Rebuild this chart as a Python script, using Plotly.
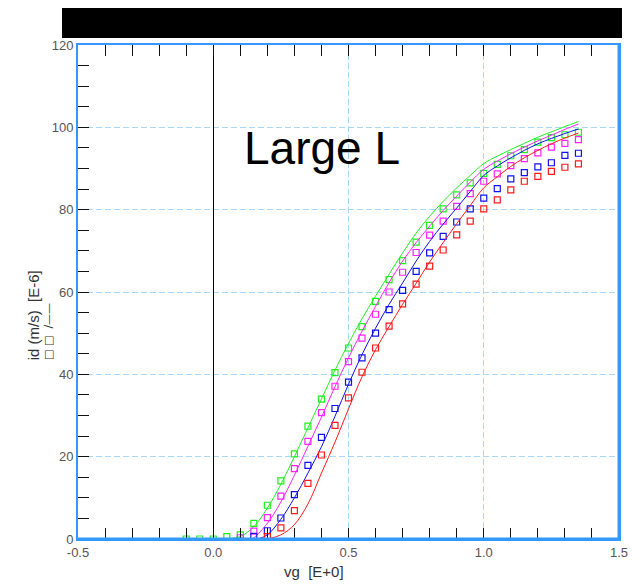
import plotly.graph_objects as go

# ---- measured data (open squares) ----
green_meas_x = [-0.10, -0.05, 0.00, 0.05, 0.10, 0.15, 0.20, 0.25, 0.30, 0.35, 0.40, 0.45, 0.50, 0.55, 0.60,
                0.65, 0.70, 0.75, 0.80, 0.85, 0.90, 0.95, 1.00, 1.05, 1.10, 1.15, 1.20, 1.25, 1.30, 1.35]
green_meas_y = [0.0, 0.0, 0.0, 0.6, 1.0, 3.8, 8.2, 14.1, 20.7, 27.4, 34.0, 40.4, 46.4, 51.6, 57.7,
                63.0, 67.6, 72.1, 76.2, 80.2, 83.6, 86.5, 88.8, 91.0, 93.1, 94.6, 96.4, 97.5, 98.2, 98.8]

magenta_meas_x = [0.10, 0.15, 0.20, 0.25, 0.30, 0.35, 0.40, 0.45, 0.50, 0.55, 0.60, 0.65, 0.70,
                  0.75, 0.80, 0.85, 0.90, 0.95, 1.00, 1.05, 1.10, 1.15, 1.20, 1.25, 1.30, 1.35]
magenta_meas_y = [0.3, 1.9, 5.2, 10.4, 17.1, 23.7, 30.7, 37.1, 43.1, 48.8, 54.6, 60.0, 64.8,
                  69.6, 73.8, 77.2, 80.8, 83.9, 86.9, 88.7, 90.7, 92.4, 93.8, 95.2, 96.1, 97.0]

blue_meas_x = [0.15, 0.20, 0.25, 0.30, 0.35, 0.40, 0.45, 0.50, 0.55, 0.60, 0.65, 0.70, 0.75,
               0.80, 0.85, 0.90, 0.95, 1.00, 1.05, 1.10, 1.15, 1.20, 1.25, 1.30, 1.35]
blue_meas_y = [0.65, 2.0, 5.1, 10.8, 17.9, 24.7, 31.7, 38.1, 44.0, 50.0, 55.7, 60.4, 65.0,
               69.5, 73.5, 77.0, 80.2, 82.8, 85.1, 87.5, 89.0, 90.4, 91.4, 93.2, 93.7]

red_meas_x = [0.20, 0.25, 0.30, 0.35, 0.40, 0.45, 0.50, 0.55, 0.60, 0.65, 0.70, 0.75,
              0.80, 0.85, 0.90, 0.95, 1.00, 1.05, 1.10, 1.15, 1.20, 1.25, 1.30, 1.35]
red_meas_y = [0.6, 2.7, 6.9, 13.5, 20.4, 27.6, 34.3, 40.5, 46.4, 51.7, 57.1, 61.9,
              66.3, 70.2, 73.9, 77.2, 80.2, 82.4, 84.8, 86.9, 88.1, 89.3, 90.3, 91.1]

# ---- simulated data (solid lines) ----
green_sim_x = [0.00, 0.05, 0.10, 0.15, 0.20, 0.25, 0.30, 0.35, 0.40, 0.45, 0.50, 0.55, 0.60, 0.65,
               0.70, 0.75, 0.80, 0.85, 0.90, 0.95, 1.00, 1.05, 1.10, 1.15, 1.20, 1.25, 1.30, 1.35]
green_sim_y = [0.0, 0.1, 0.6, 3.0, 7.5, 13.3, 20.0, 27.0, 34.0, 41.0, 47.5, 53.5, 59.0, 64.3,
               69.5, 74.3, 78.4, 82.0, 85.3, 88.3, 91.2, 93.0, 94.6, 96.1, 97.6, 98.9, 100.2, 101.4]

magenta_sim_x = [0.14, 0.15, 0.20, 0.25, 0.30, 0.35, 0.40, 0.45, 0.50, 0.55, 0.60, 0.65,
                 0.70, 0.75, 0.80, 0.85, 0.90, 0.95, 1.00, 1.05, 1.10, 1.15, 1.20, 1.25, 1.30, 1.35]
magenta_sim_y = [0.0, 0.3, 3.8, 9.0, 15.5, 22.5, 29.6, 37.0, 44.0, 50.5, 56.5, 62.3,
                 67.5, 72.0, 76.0, 79.8, 83.3, 86.7, 89.8, 91.8, 93.6, 95.2, 96.7, 98.1, 99.5, 100.8]

blue_sim_x = [0.165, 0.20, 0.25, 0.30, 0.35, 0.40, 0.45, 0.50, 0.55, 0.60, 0.65, 0.70, 0.75,
              0.80, 0.85, 0.90, 0.95, 1.00, 1.05, 1.10, 1.15, 1.20, 1.25, 1.30, 1.35]
blue_sim_y = [0.0, 1.0, 4.8, 10.0, 16.0, 22.4, 29.8, 37.6, 44.8, 51.2, 57.0, 62.2, 67.5,
              72.3, 76.5, 80.4, 84.4, 88.3, 90.6, 92.6, 94.4, 96.0, 97.3, 98.5, 99.6]

red_sim_x = [0.20, 0.25, 0.30, 0.35, 0.40, 0.45, 0.50, 0.55, 0.60, 0.65, 0.70, 0.75,
             0.80, 0.85, 0.90, 0.95, 1.00, 1.05, 1.10, 1.15, 1.20, 1.25, 1.30, 1.35]
red_sim_y = [0.0, 1.0, 3.5, 8.5, 16.0, 23.5, 31.6, 39.4, 46.0, 51.6, 57.0, 62.1,
             67.3, 72.0, 76.6, 81.0, 85.3, 88.0, 90.5, 92.6, 94.4, 96.0, 97.4, 98.6]

x_ticks = [-0.5, 0.0, 0.5, 1.0, 1.5]
x_tick_labels = ["-0.5", "0.0", "0.5", "1.0", "1.5"]
y_ticks = [0, 20, 40, 60, 80, 100, 120]

GREEN = "#22ee22"
MAGENTA = "#ff22ff"
BLUE = "#1111ee"
RED = "#ff1a1a"
BORDER = "#3399ff"
GRID = "#a8d8f8"
FONT = "Liberation Sans, Arial, sans-serif"

fig = go.Figure()

series = [
    (green_sim_x, green_sim_y, green_meas_x, green_meas_y, GREEN),
    (magenta_sim_x, magenta_sim_y, magenta_meas_x, magenta_meas_y, MAGENTA),
    (blue_sim_x, blue_sim_y, blue_meas_x, blue_meas_y, BLUE),
    (red_sim_x, red_sim_y, red_meas_x, red_meas_y, RED),
]
for sx, sy, mx, my, col in series:
    fig.add_trace(go.Scatter(x=sx, y=sy, mode="lines", line=dict(color=col, width=1),
                             line_shape="spline", showlegend=False, hoverinfo="skip"))
    fig.add_trace(go.Scatter(x=mx, y=my, mode="markers",
                             marker=dict(symbol="square-open", size=6, color=col,
                                         line=dict(color=col, width=1.2)),
                             showlegend=False))

# page body has an 8px margin, so the figure is drawn offset by (8, 8)
fig.update_layout(
    width=635, height=576,
    margin=dict(l=70, r=24, t=37, b=45),
    paper_bgcolor="white", plot_bgcolor="white",
    font=dict(family=FONT, size=13, color="#555555"),
    showlegend=False,
    xaxis=dict(
        range=[-0.5, 1.5], tickvals=x_ticks, ticktext=x_tick_labels,
        ticks="inside", ticklen=0, showgrid=True, gridcolor=GRID, griddash="6px,3px", gridwidth=1,
        showline=True, linecolor=BORDER, linewidth=2, mirror="ticks",
        zeroline=True, zerolinecolor="black", zerolinewidth=1,
        minor=dict(dtick=0.1, ticks="inside", ticklen=11, tickcolor="#111111", tickwidth=1,
                   showgrid=False),
        tickfont=dict(size=13, color="#555555"),
        automargin=False,
    ),
    yaxis=dict(
        range=[0, 120], tickvals=y_ticks,
        ticks="inside", ticklen=0, showgrid=True, gridcolor=GRID, griddash="6px,3px", gridwidth=1,
        showline=True, linecolor=BORDER, linewidth=2, mirror=True,
        zeroline=False,
        minor=dict(dtick=5, ticks="inside", ticklen=11, tickcolor="#111111", tickwidth=1,
                   showgrid=False),
        tickfont=dict(size=13, color="#555555"),
        automargin=False,
    ),
)

# thicker right / bottom border
fig.add_shape(type="line", xref="paper", yref="paper", x0=1, x1=1, y0=0, y1=1,
              line=dict(color=BORDER, width=3))
fig.add_shape(type="line", xref="paper", yref="paper", x0=0, x1=1, y0=0, y1=0,
              line=dict(color=BORDER, width=3))

# black bar at the top
fig.add_shape(type="rect", xref="paper", yref="paper",
              x0=-0.0296, x1=1.0055, y0=1.0142, y1=1.0749,
              fillcolor="black", line=dict(width=0), layer="above")

# "Large L" label
fig.add_annotation(text="Large L", xref="paper", yref="paper", x=0.451, y=0.792,
                   xanchor="center", yanchor="middle", showarrow=False,
                   font=dict(family=FONT, size=46, color="black"))

# axis titles
fig.add_annotation(text="vg  [E+0]", xref="paper", yref="paper", x=0.437, y=-0.066,
                   xanchor="center", yanchor="middle", showarrow=False,
                   font=dict(family=FONT, size=15, color="#333333"))
fig.add_annotation(text="id (m/s)  [E-6]", xref="paper", yref="paper", x=-0.083, y=0.358,
                   xanchor="center", yanchor="bottom", textangle=-90, showarrow=False,
                   font=dict(family=FONT, size=15, color="#333333"))
fig.add_annotation(text="□ □  /——", xref="paper", yref="paper", x=-0.055, y=0.358,
                   xanchor="center", yanchor="bottom", textangle=-90, showarrow=False,
                   font=dict(family="DejaVu Sans, sans-serif", size=11, color="#333333"))

fig.write_html("out.html")
